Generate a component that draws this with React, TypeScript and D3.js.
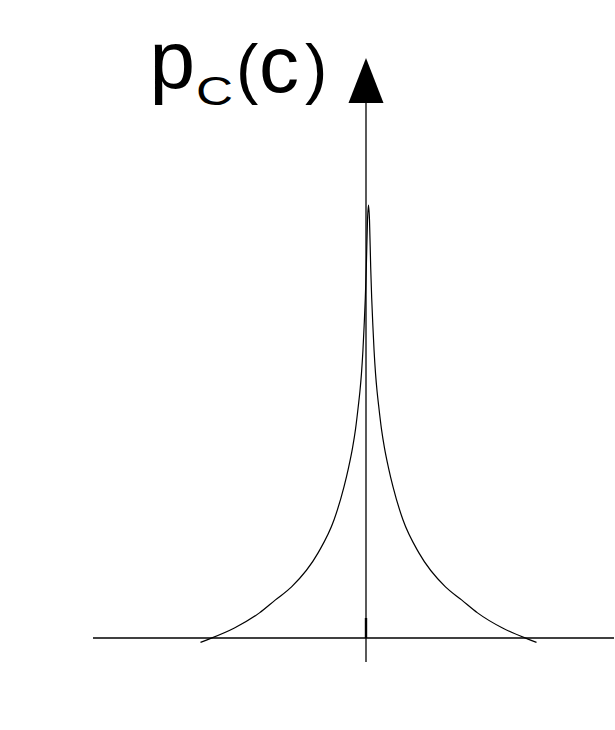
import React from 'react';
import * as d3 from 'd3';

// Right half of the symmetric density p_C(c); the left half is its mirror image.
const cValues = [0, 0.006, 0.013, 0.019, 0.026, 0.033, 0.042, 0.051, 0.06, 0.077, 0.095, 0.119, 0.146, 0.205, 0.301, 0.458, 0.554, 0.649, 0.798, 0.946, 1.0];
const pValues = [1.0, 0.965, 0.857, 0.785, 0.721, 0.665, 0.61, 0.57, 0.538, 0.483, 0.439, 0.393, 0.349, 0.273, 0.196, 0.118, 0.088, 0.058, 0.023, -0.002, -0.01];

const axisLabelMain = 'p';
const axisLabelSub = 'C';
const axisLabelOpen = '(';
const axisLabelArg = 'c';
const axisLabelClose = ')';

const W = 615;
const H = 730;

export default function App() {
  const x = d3.scaleLinear().domain([-1, 1]).range([200.5, 536.5]);
  const y = d3.scaleLinear().domain([0, 1]).range([638, 205]);

  const right = cValues.map((c, i) => [c, pValues[i]] as [number, number]);
  const left = right
    .slice(1)
    .map(([c, p]) => [-c, p] as [number, number])
    .reverse();
  const series = [...left, ...right];

  const line = d3
    .line<[number, number]>()
    .x((d) => x(d[0]))
    .y((d) => y(d[1]))
    .curve(d3.curveMonotoneX);

  const axisX = 366;
  const baseY = y(0);
  const font = '"Liberation Sans", Arial, Helvetica, sans-serif';

  return (
    <svg
      width={W}
      height={H}
      viewBox={`0 0 ${W} ${H}`}
      style={{ position: 'absolute', left: 0, top: 0, background: '#fff' }}
    >
      <rect x={0} y={0} width={W} height={H} fill="#fff" />
      {/* horizontal axis */}
      <line x1={93} x2={614} y1={baseY} y2={baseY} stroke="#000" strokeWidth={1.3} />
      {/* vertical axis with arrowhead */}
      <line x1={axisX} x2={axisX} y1={100} y2={662} stroke="#000" strokeWidth={1.3} />
      <line x1={axisX} x2={axisX} y1={618} y2={baseY} stroke="#000" strokeWidth={2.4} />
      <path
        d={`M${axisX},58 L${axisX + 17.5},103 L${axisX - 17.5},103 Z`}
        fill="#000"
      />
      {/* density curve */}
      <path d={line(series) ?? ''} fill="none" stroke="#000" strokeWidth={1.2} />
      {/* axis label p_C(c) */}
      <g fontFamily={font} fill="#000">
        <text x={149.5} y={87.5} fontSize={82}>{axisLabelMain}</text>
        <text transform="translate(196,105) scale(1.25,1)" fontSize={41}>{axisLabelSub}</text>
        <text x={236} y={91} fontSize={67}>{axisLabelOpen}</text>
        <text x={259} y={92} fontSize={80}>{axisLabelArg}</text>
        <text x={305} y={91} fontSize={67}>{axisLabelClose}</text>
      </g>
    </svg>
  );
}
